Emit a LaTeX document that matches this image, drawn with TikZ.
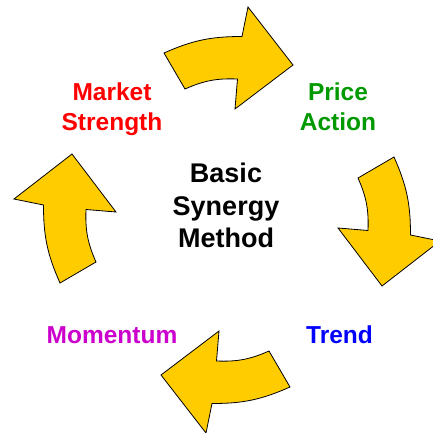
\documentclass[tikz,border=0pt]{standalone}
\usepackage{fontspec}
\setmainfont{Liberation Sans}
\definecolor{arrowgold}{RGB}{255,204,0}
\definecolor{stagegreen}{RGB}{0,153,0}
\definecolor{stagemagenta}{RGB}{204,0,204}
\tikzstyle{swoosh}=[fill=arrowgold,draw=black,line width=0.8pt,line join=miter]
\tikzstyle{stage}=[align=center,inner sep=0pt,font=\fontsize{24.5}{29.5}\selectfont\bfseries]
\tikzstyle{hub}=[align=center,inner sep=0pt,font=\fontsize{27}{32.5}\selectfont\bfseries]
\begin{document}
\begin{tikzpicture}[x=1pt,y=1pt]
\useasboundingbox (-227,-212) rectangle (206,220);
\clip (-227,-212) rectangle (206,220);

\draw[swoosh] (-63,167) to[bend left=12] (15,183.5) -- (21,213) -- (66,155) -- (8,111) -- (10.5,141) to[bend right=13] (-42,131) -- cycle;
\draw[swoosh, rotate=-90] (-63,167) to[bend left=12] (15,183.5) -- (21,213) -- (66,155) -- (8,111) -- (10.5,141) to[bend right=13] (-42,131) -- cycle;
\draw[swoosh, rotate=-180] (-63,167) to[bend left=12] (15,183.5) -- (21,213) -- (66,155) -- (8,111) -- (10.5,141) to[bend right=13] (-42,131) -- cycle;
\draw[swoosh, rotate=-270] (-63,167) to[bend left=12] (15,183.5) -- (21,213) -- (66,155) -- (8,111) -- (10.5,141) to[bend right=13] (-42,131) -- cycle;

\node[stage, text=red] (ms) at (-115, 110.7) {Market\\Strength};
\node[stage, text=stagegreen] (pa) at (111, 113.3) {Price\\Action};
\node[stage, text=blue] (tr) at (112.5, -115) {Trend};
\node[stage, text=stagemagenta] (mo) at (-115, -115) {Momentum};

\node[hub] (bsm) at (-1, 14.5) {Basic\\Synergy\\Method};

\end{tikzpicture}
\end{document}
